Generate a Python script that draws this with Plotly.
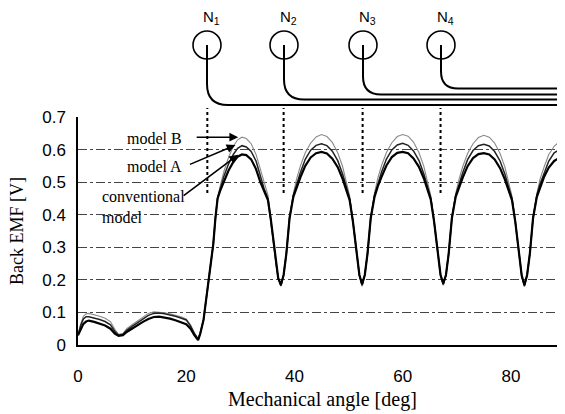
import plotly.graph_objects as go

# ---------------- data ----------------
angle = [
    0, 0.5, 1, 1.5, 2, 3, 4, 5, 6, 6.8, 7.5, 8.3, 9, 10, 11, 12, 13, 14, 15, 16, 17, 18, 19, 20, 20.8, 21.5, 22.2,
    22.6, 23.2, 23.8, 24.4, 25.0, 25.4, 25.8,
    26.3, 27, 27.8, 28.7, 29.5, 30.3, 31.1, 32, 32.9, 33.7, 34.4, 35.1, 35.6, 36.1, 36.6, 37.0, 37.5,
    38, 38.5, 39.1, 39.8, 40.4, 41.1, 42, 43, 44, 45, 46, 47, 48, 48.9, 49.6, 50.2, 50.8, 51.4, 52, 52.5,
    53, 53.5, 54.1, 54.8, 55.4, 56.1, 57, 58, 59, 60, 61, 62, 63, 63.9, 64.6, 65.2, 65.8, 66.4, 67, 67.5,
    68, 68.5, 69.1, 69.8, 70.4, 71.1, 72, 73, 74, 75, 76, 77, 78, 78.9, 79.6, 80.2, 80.8, 81.4, 82, 82.5,
    83, 83.5, 84.1, 84.8, 85.4, 86.1, 87, 88, 89, 90,
]

emf_conventional = [
    0.03, 0.05, 0.065, 0.072, 0.075, 0.071, 0.066, 0.060, 0.050, 0.035, 0.028, 0.030, 0.040, 0.051, 0.060, 0.071, 0.080, 0.086, 0.087, 0.085, 0.081, 0.076, 0.070, 0.064, 0.050, 0.030, 0.015,
    0.035, 0.077, 0.150, 0.235, 0.310, 0.390, 0.450,
    0.475, 0.505, 0.535, 0.562, 0.578, 0.585, 0.583, 0.570, 0.540, 0.500, 0.470, 0.445, 0.390, 0.320, 0.250, 0.205, 0.185,
    0.215, 0.280, 0.390, 0.455, 0.485, 0.515, 0.550, 0.576, 0.589, 0.593, 0.588, 0.572, 0.546, 0.510, 0.475, 0.445, 0.380, 0.290, 0.215, 0.187,
    0.215, 0.280, 0.390, 0.455, 0.487, 0.516, 0.551, 0.577, 0.590, 0.593, 0.589, 0.573, 0.547, 0.512, 0.476, 0.446, 0.380, 0.290, 0.215, 0.189,
    0.215, 0.280, 0.390, 0.455, 0.485, 0.514, 0.549, 0.574, 0.586, 0.589, 0.585, 0.570, 0.543, 0.508, 0.474, 0.445, 0.380, 0.290, 0.213, 0.184,
    0.215, 0.280, 0.390, 0.455, 0.485, 0.515, 0.545, 0.565, 0.575, 0.580,
]

emf_model_a = [
    0.03, 0.06, 0.080, 0.087, 0.087, 0.083, 0.078, 0.072, 0.062, 0.042, 0.030, 0.033, 0.045, 0.057, 0.068, 0.080, 0.091, 0.097, 0.098, 0.096, 0.093, 0.088, 0.083, 0.077, 0.058, 0.035, 0.018,
    0.037, 0.078, 0.150, 0.235, 0.310, 0.390, 0.452,
    0.480, 0.520, 0.555, 0.585, 0.604, 0.612, 0.608, 0.594, 0.565, 0.520, 0.480, 0.450, 0.390, 0.320, 0.250, 0.205, 0.182,
    0.215, 0.280, 0.390, 0.460, 0.495, 0.530, 0.570, 0.598, 0.613, 0.618, 0.612, 0.595, 0.566, 0.525, 0.485, 0.450, 0.380, 0.290, 0.215, 0.183,
    0.215, 0.280, 0.390, 0.460, 0.496, 0.531, 0.571, 0.599, 0.614, 0.619, 0.613, 0.596, 0.567, 0.526, 0.486, 0.451, 0.380, 0.290, 0.215, 0.186,
    0.215, 0.280, 0.390, 0.460, 0.494, 0.529, 0.569, 0.597, 0.612, 0.616, 0.611, 0.594, 0.565, 0.524, 0.484, 0.450, 0.380, 0.290, 0.213, 0.181,
    0.215, 0.280, 0.390, 0.460, 0.495, 0.525, 0.565, 0.590, 0.600, 0.605,
]

emf_model_b = [
    0.03, 0.065, 0.088, 0.096, 0.097, 0.093, 0.088, 0.082, 0.072, 0.048, 0.033, 0.035, 0.050, 0.062, 0.073, 0.085, 0.097, 0.102, 0.101, 0.099, 0.096, 0.092, 0.087, 0.080, 0.062, 0.038, 0.020,
    0.038, 0.080, 0.152, 0.237, 0.312, 0.392, 0.455,
    0.490, 0.535, 0.575, 0.610, 0.630, 0.638, 0.634, 0.618, 0.585, 0.540, 0.495, 0.460, 0.392, 0.320, 0.250, 0.205, 0.180,
    0.215, 0.280, 0.390, 0.465, 0.510, 0.550, 0.590, 0.620, 0.639, 0.646, 0.640, 0.622, 0.590, 0.548, 0.500, 0.458, 0.380, 0.290, 0.215, 0.180,
    0.215, 0.280, 0.390, 0.466, 0.512, 0.551, 0.591, 0.621, 0.640, 0.646, 0.641, 0.623, 0.591, 0.549, 0.501, 0.459, 0.380, 0.290, 0.215, 0.183,
    0.215, 0.280, 0.390, 0.465, 0.508, 0.548, 0.588, 0.618, 0.637, 0.644, 0.638, 0.620, 0.588, 0.546, 0.499, 0.457, 0.380, 0.290, 0.213, 0.179,
    0.215, 0.280, 0.390, 0.465, 0.510, 0.545, 0.585, 0.610, 0.625, 0.632,
]

y_tick_values = [0, 0.1, 0.2, 0.3, 0.4, 0.5, 0.6, 0.7]
y_tick_labels = ["0", "0.1", "0.2", "0.3", "0.4", "0.5", "0.6", "0.7"]
x_tick_values = [0, 20, 40, 60, 80]
x_tick_labels = ["0", "20", "40", "60", "80"]

sensor_names = ["N<sub>1</sub>", "N<sub>2</sub>", "N<sub>3</sub>", "N<sub>4</sub>"]
sensor_angles = [23.9, 38.0, 52.6, 67.0]

# ---------------- layout geometry ----------------
# The page body has an 8px margin, so the figure is drawn 8px right/down of the window corner.
OFF = 8
W, H = 565 - OFF, 414 - OFF
ML, MR, MT, MB = 78 - OFF, 0, 117 - OFF, 69
PW, PH = W - ML - MR, H - MT - MB
X_RANGE = [0, 90]


def px(xref_pix):
    """window pixel x -> paper x"""
    return (xref_pix - OFF - ML) / PW


def py(yref_pix):
    """window pixel y -> paper y"""
    return (H - MB - (yref_pix - OFF)) / PH


def ang_to_pix(a):
    return OFF + ML + (a - X_RANGE[0]) / (X_RANGE[1] - X_RANGE[0]) * PW


serif = "Liberation Serif, Times New Roman, serif"
sans = "Liberation Sans, Arial, sans-serif"

fig = go.Figure()

fig.add_trace(go.Scatter(x=angle, y=emf_model_b, mode="lines", name="model B",
                         line=dict(color="#8a8a8a", width=1.1)))
fig.add_trace(go.Scatter(x=angle, y=emf_model_a, mode="lines", name="model A",
                         line=dict(color="#222222", width=1.5)))
fig.add_trace(go.Scatter(x=angle, y=emf_conventional, mode="lines", name="conventional model",
                         line=dict(color="#000000", width=2.2)))

shapes = []
annotations = []

# right frame edge
shapes.append(dict(type="line", xref="paper", yref="paper", x0=0.998, x1=0.998, y0=0, y1=1,
                   line=dict(color="#777", width=1, dash="dot")))

# sensors: circles, wires, labels, dotted position markers
wire_h = [105, 99.5, 94.5, 88.5]
corner_r = [21, 20, 18, 17]
cy = 45
r = 14
for i, a in enumerate(sensor_angles):
    cx = round(ang_to_pix(a))
    shapes.append(dict(type="circle", xref="paper", yref="paper",
                       x0=px(cx - r), x1=px(cx + r), y0=py(cy + r), y1=py(cy - r),
                       line=dict(color="black", width=1.6)))
    hy = wire_h[i]
    rr = corner_r[i]
    path = (f"M {px(cx)},{py(cy)} L {px(cx)},{py(hy - rr)} "
            f"Q {px(cx)},{py(hy)} {px(cx + rr)},{py(hy)} L {px(570)},{py(hy)}")
    shapes.append(dict(type="path", xref="paper", yref="paper", path=path,
                       line=dict(color="black", width=2)))
    shapes.append(dict(type="line", xref="x", yref="paper", x0=a, x1=a,
                       y0=py(193), y1=py(108), line=dict(color="black", width=2, dash="dot")))
    annotations.append(dict(text=sensor_names[i], xref="paper", yref="paper",
                            x=px(cx + 4), y=py(17), xanchor="center", yanchor="middle",
                            showarrow=False, font=dict(family=sans, size=15, color="black")))

# curve labels
label_font = dict(family=serif, size=16, color="black")
annotations.append(dict(text="model B", xref="paper", yref="paper", x=px(125), y=py(138),
                        xanchor="left", yanchor="middle", showarrow=False, font=label_font))
annotations.append(dict(text="model A", xref="paper", yref="paper", x=px(125), y=py(166),
                        xanchor="left", yanchor="middle", showarrow=False, font=label_font))
annotations.append(dict(text="conventional<br>model", xref="paper", yref="paper", x=px(100), y=py(207),
                        xanchor="left", yanchor="middle", align="left", showarrow=False, font=label_font))

# arrows (head at curve peak, tail near label)
arrow_heads = [(29.6, 0.638, -43, 0), (29.1, 0.614, -47, 20), (29.6, 0.584, -56, 42)]
for hx, hy, ax, ay in arrow_heads:
    annotations.append(dict(text="", x=hx, y=hy, xref="x", yref="y", ax=ax, ay=ay,
                            showarrow=True, arrowhead=2, arrowsize=1.1, arrowwidth=1.6,
                            arrowcolor="black"))

# axis titles as free text for precise placement
annotations.append(dict(text="Mechanical angle [deg]", xref="paper", yref="paper",
                        x=px(322), y=py(399), xanchor="center", yanchor="middle", showarrow=False,
                        font=dict(family=serif, size=20, color="black")))
annotations.append(dict(text="Back EMF [V]", xref="paper", yref="paper",
                        x=px(17), y=py(231), xanchor="center", yanchor="middle",
                        showarrow=False, textangle=-90,
                        font=dict(family=serif, size=18, color="black")))

fig.update_layout(
    width=W, height=H,
    margin=dict(l=ML, r=MR, t=MT, b=MB, pad=0),
    paper_bgcolor="white", plot_bgcolor="white",
    showlegend=False,
    shapes=shapes,
    annotations=annotations,
    xaxis=dict(range=X_RANGE, tickvals=x_tick_values, ticktext=x_tick_labels,
               showgrid=False, zeroline=False, showline=True, linecolor="black", linewidth=1.5,
               ticks="", ticklabelstandoff=15, automargin=False,
               tickfont=dict(family=sans, size=17, color="black")),
    yaxis=dict(range=[0, 0.7], tickvals=y_tick_values, ticktext=y_tick_labels,
               showgrid=True, gridcolor="#444", gridwidth=1, griddash="dashdot",
               zeroline=False, showline=True, linecolor="black", linewidth=1.5,
               ticks="", ticklabelstandoff=7, automargin=False,
               tickfont=dict(family=sans, size=17, color="black")),
)

fig.write_html("out.html")
